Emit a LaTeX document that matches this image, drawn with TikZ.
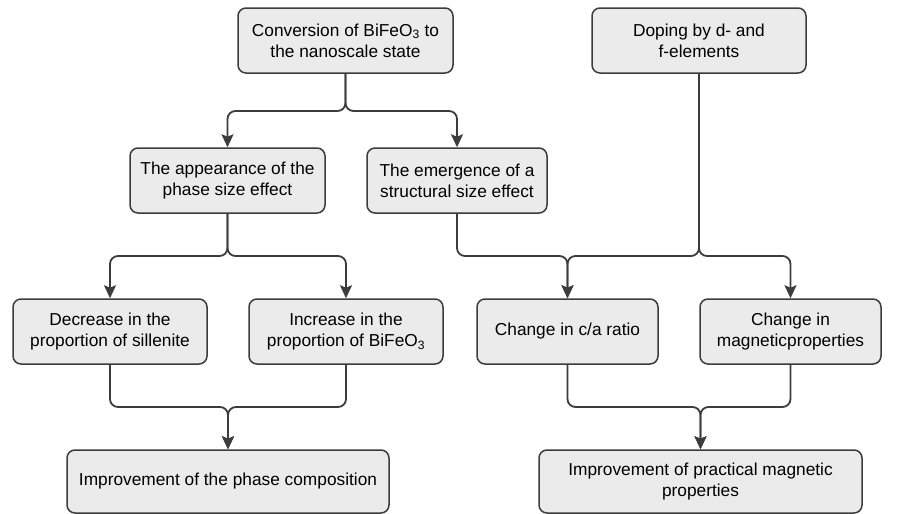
\documentclass[tikz,border=0pt]{standalone}
\usepackage{fontspec}
\setmainfont{Liberation Sans}
\usetikzlibrary{positioning,arrows.meta,calc}
\definecolor{boxgray}{RGB}{235,235,235}
\definecolor{linegray}{RGB}{60,60,60}

\tikzset{
  stage/.style={draw=linegray, fill=boxgray, line width=1.5pt, rounded corners=8pt,
    align=center, inner sep=2pt, minimum height=65pt,
    font=\fontsize{17.3}{21}\selectfont},
  link/.style={draw=linegray, line width=1.8pt, rounded corners=8pt,
    -{Stealth[length=13pt,width=12pt,inset=2.5pt]}}
}

\begin{document}
\begin{tikzpicture}[x=1pt,y=-1pt]
    \useasboundingbox (0,0) rectangle (921,514);
    % top row
    \node[stage, minimum width=215pt] (conv) at (345.5,40.5) {Conversion of BiFeO\textsubscript{3} to\\the nanoscale state};
    \node[stage, minimum width=214pt] (dop) at (699,40.5) {Doping by d- and\\f-elements};
    % size effects
    \node[stage, minimum width=195pt] (app) at (227.5,180.5) {The appearance of the\\phase size effect};
    \node[stage, minimum width=180pt] (emg) at (457,180.5) {The emergence of a\\structural size effect};
    % changes
    \node[stage, minimum width=194pt] (dec) at (110,331.5) {Decrease in the\\proportion of sillenite};
    \node[stage, minimum width=194pt] (inc) at (346,331.5) {Increase in the\\proportion of BiFeO\textsubscript{3}};
    \node[stage, minimum width=181pt] (ca) at (567.5,331.5) {Change in c/a ratio};
    \node[stage, minimum width=181pt] (mag) at (790.5,331.5) {Change in\\magneticproperties};
    % results
    \node[stage, minimum width=322pt, minimum height=63pt] (impA) at (228,481.5) {Improvement of the phase composition};
    \node[stage, minimum width=323pt, minimum height=63pt] (impB) at (700.5,481.5) {Improvement of practical magnetic\\properties};
    % junction levels
    \coordinate (lvA) at (0,111);
    \coordinate (lvB) at (0,256);
    \coordinate (lvC) at (0,407);
    \draw[link] (conv.south) -- (conv.south |- lvA) -| (app.north);
    \draw[link] (conv.south) -- (conv.south |- lvA) -| (emg.north);
    \draw[link] (app.south) -- (app.south |- lvB) -| (dec.north);
    \draw[link] (app.south) -- (app.south |- lvB) -| (inc.north);
    \draw[link] (emg.south) -- (emg.south |- lvB) -| (ca.north);
    \draw[link] (dop.south) -- (dop.south |- lvB) -| (ca.north);
    \draw[link] (dop.south) -- (dop.south |- lvB) -| (mag.north);
    \draw[link] (dec.south) -- (dec.south |- lvC) -| (impA.north);
    \draw[link] (inc.south) -- (inc.south |- lvC) -| (impA.north);
    \draw[link] (ca.south) -- (ca.south |- lvC) -| (impB.north);
    \draw[link] (mag.south) -- (mag.south |- lvC) -| (impB.north);
\end{tikzpicture}
\end{document}
